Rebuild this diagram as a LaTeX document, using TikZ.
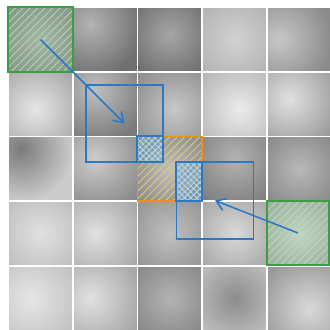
\documentclass[tikz,border=0pt]{standalone}
\usepackage{tikz}
\usetikzlibrary{arrows.meta,patterns.meta}
\definecolor{boxblue}{HTML}{2A78C6}
\definecolor{srcgreen}{HTML}{3A9E44}
\definecolor{hatchgreen}{HTML}{A8E8A8}
\definecolor{cellorange}{HTML}{F0920C}
\definecolor{hatchorange}{HTML}{E8C86E}
\definecolor{hatchblue}{HTML}{A8D8F4}

\begin{document}
\begin{tikzpicture}[
  x=0.03cm,y=-0.03cm,
  src/.style={draw=srcgreen,line width=1.2pt,inner sep=0pt,
              preaction={fill=srcgreen,fill opacity=0.12},
              pattern={Lines[angle=45,distance=4.5pt,line width=0.6pt]},pattern color=hatchgreen},
  cell/.style={draw=cellorange,line width=1.3pt,inner sep=0pt,
              pattern={Lines[angle=45,distance=4.5pt,line width=0.7pt]},pattern color=hatchorange},
  shifted/.style={draw=boxblue,line width=1.2pt,inner sep=0pt,minimum width=2.32cm,minimum height=2.31cm},
  overlap/.style={draw=boxblue,line width=1.2pt,inner sep=0pt,
              preaction={fill=boxblue,fill opacity=0.2},
              pattern={Hatch[angle=45,distance=3.6pt,line width=0.8pt]},pattern color=hatchblue},
  move/.style={-{Straight Barb[length=2.8mm,width=3.8mm]},draw=boxblue,line width=1.3pt}
]
\useasboundingbox (0,0) rectangle (330,329);

%------ grey tiles ------------------------------------------------------------
\foreach \c/\r/\i/\o/\dx/\dy in {
  0/0/28/45/0/0,    1/0/30/56/-15/-15, 2/0/35/60/0/-5,   3/0/18/32/0/0,   4/0/22/46/-20/0,
  0/1/10/36/-5/5,   1/1/25/52/-10/-15, 2/1/22/46/5/5,    3/1/8/30/5/5,    4/1/12/40/-10/-5,
  0/2/52/20/-20/-20,1/2/20/46/-10/-10, 2/2/25/50/0/0,    3/2/30/52/0/-10, 4/2/28/50/0/0,
  0/3/12/28/0/0,    1/3/12/36/-10/0,   2/3/25/45/0/0,    3/3/15/38/0/0,   4/3/15/35/0/0,
  0/4/10/25/-10/0,  1/4/12/35/-15/0,   2/4/30/50/0/0,    3/4/45/22/0/0,   4/4/15/40/10/10}{
  \begin{scope}
    \clip (8+\c*64.75,7+\r*64.75) rectangle ++(64.75,64.75);
    \fill[black!\o] (8+\c*64.75,7+\r*64.75) rectangle ++(64.75,64.75);
    \shade[inner color=black!\i,outer color=black!\o] (40.4+\c*64.75+\dx,39.4+\r*64.75+\dy) circle (1.6cm);
  \end{scope}
}
\foreach \k in {0,...,5}{
  \draw[white,line width=1.6pt] (8+\k*64.75,7) -- (8+\k*64.75,335);
  \draw[white,line width=1.6pt] (8,7+\k*64.75) -- (335,7+\k*64.75);
}

%------ source cells ----------------------------------------------------------
\node[src,minimum width=1.95cm,minimum height=1.95cm] (g1) at (40.5,39.5) {};
\node[src,minimum width=1.86cm,minimum height=1.93cm] (g2) at (298,233) {};

%------ target cell -----------------------------------------------------------
\node[cell,minimum width=1.94cm,minimum height=1.94cm] (tgt) at (169.9,168.9) {};

%------ overlaps --------------------------------------------------------------
\node[overlap,minimum width=0.78cm,minimum height=0.78cm] (ov1) at (150,149) {};
\node[overlap,minimum width=0.78cm,minimum height=1.17cm] (ov2) at (189,181.5) {};

%------ shifted boxes ---------------------------------------------------------
\node[shifted] (b1) at (124.5,123.5) {};
\node[shifted] (b2) at (215,200.5) {};

%------ moves -----------------------------------------------------------------
\draw[move] (g1.center) -- (b1.center);
\draw[move] (g2.center) -- (b2.center);
\end{tikzpicture}
\end{document}
